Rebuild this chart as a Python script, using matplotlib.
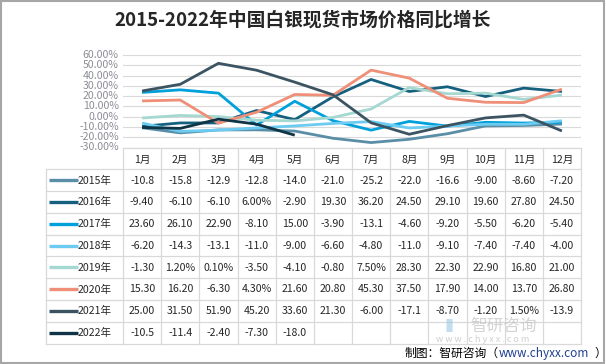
import numpy as np
import matplotlib.pyplot as plt
from matplotlib.patches import Rectangle

plt.rcParams['font.family'] = ['Noto Sans CJK SC', 'DejaVu Sans']

months = ['1月', '2月', '3月', '4月', '5月', '6月', '7月', '8月', '9月', '10月', '11月', '12月']
years = ['2015年', '2016年', '2017年', '2018年', '2019年', '2020年', '2021年', '2022年']

y2015 = [-10.8, -15.8, -12.9, -12.8, -14.0, -21.0, -25.2, -22.0, -16.6, -9.00, -8.60, -7.20]
y2016 = [-9.40, -6.10, -6.10, 6.00, -2.90, 19.30, 36.20, 24.50, 29.10, 19.60, 27.80, 24.50]
y2017 = [23.60, 26.10, 22.90, -8.10, 15.00, -3.90, -13.1, -4.60, -9.20, -5.50, -6.20, -5.40]
y2018 = [-6.20, -14.3, -13.1, -11.0, -9.00, -6.60, -4.80, -11.0, -9.10, -7.40, -7.40, -4.00]
y2019 = [-1.30, 1.20, 0.10, -3.50, -4.10, -0.80, 7.50, 28.30, 22.30, 22.90, 16.80, 21.00]
y2020 = [15.30, 16.20, -6.30, 4.30, 21.60, 20.80, 45.30, 37.50, 17.90, 14.00, 13.70, 26.80]
y2021 = [25.00, 31.50, 51.90, 45.20, 33.60, 21.30, -6.00, -17.1, -8.70, -1.20, 1.50, -13.9]
y2022 = [-10.5, -11.4, -2.40, -7.30, -18.0]

series = [y2015, y2016, y2017, y2018, y2019, y2020, y2021, y2022]
colors = ['#5a8ea6', '#15607f', '#00a0da', '#6ccbf1', '#a4d8d1', '#ef8f78', '#3c5462', '#0f3446']

W, H = 606, 364


def fx(px):
    return px / W


def fy(py):
    return 1 - py / H


def fmt(v):
    if 0 < v < 10:
        return f'{v:.2f}%'
    if v <= -10:
        return f'{v:.1f}'
    return f'{v:.2f}'


fig = plt.figure(figsize=(W / 100, H / 100), dpi=100)

# plot area
x0, x1 = 123, 581
ytop, ybot = 55, 147.5
ax = fig.add_axes([fx(x0), fy(ybot), fx(x1 - x0), fy(ytop) - fy(ybot)])
for s, c in zip(series, colors):
    ax.plot(range(len(s)), s, color=c, lw=2.0, solid_capstyle='butt')
ax.set_xlim(-0.5, 11.5)
ax.set_ylim(-30, 60)
ax.set_yticks(np.arange(-30, 61, 10))
ax.set_yticklabels([f'{v:.2f}%' for v in np.arange(-30, 61, 10)], fontsize=7.6,
                   color='#8c8d96')
ax.set_xticks([])
ax.grid(axis='y', color='#d9d9d9', lw=0.8)
ax.set_axisbelow(True)
for sp in ax.spines.values():
    sp.set_visible(False)
ax.tick_params(axis='y', length=0, pad=3)
for lab in ax.get_yticklabels():
    lab.set_verticalalignment('center')

# data table
tb_bot = 343.5
tab = fig.add_axes([fx(x0), fy(tb_bot), fx(x1 - x0), fy(ybot) - fy(tb_bot)])
tab.set_xlim(-0.5, 11.5)
tab.set_ylim(8.5, -0.5)
tab.axis('off')
grid_c = '#d9d9d9'
lab_w = (x0 - 46) / ((x1 - x0) / 12)
left = -0.5 - lab_w
for j in range(13):
    tab.plot([j - 0.5, j - 0.5], [-0.5, 8.5], color=grid_c, lw=0.9, clip_on=False)
tab.plot([left, left], [0.5, 8.5], color=grid_c, lw=0.9, clip_on=False)
for r in range(10):
    xa = -0.5 if r == 0 else left
    tab.plot([xa, 11.5], [r - 0.5, r - 0.5], color=grid_c, lw=0.9, clip_on=False)
for j, m in enumerate(months):
    tab.text(j, 0.05, m, ha='center', va='center', fontsize=7.6, color='#262626')
for i, (yr, s, c) in enumerate(zip(years, series, colors)):
    r = i + 1
    tab.plot([left + 0.08, left + 0.84], [r, r], color=c, lw=2.4, clip_on=False,
             solid_capstyle='butt')
    tab.text(left + 0.84, r + 0.02, yr, ha='left', va='center', fontsize=7.6,
             color='#262626', clip_on=False)
    for j, v in enumerate(s):
        tab.text(j, r + 0.02, fmt(v), ha='center', va='center', fontsize=7.6,
                 color='#262626')

# title
fig.text(0.5, fy(20), '2015-2022年中国白银现货市场价格同比增长', ha='center', va='center',
         fontsize=13.5, fontweight='bold', color='#262626')

# watermark
fig.text(fx(470), fy(326), '智研咨询', ha='left', va='center', fontsize=12,
         color='#b8b8b8', alpha=0.6)
fig.text(fx(445), fy(326), '▮', ha='left', va='center', fontsize=12,
         color='#9ec9e6', alpha=0.6)
fig.text(fx(436), fy(339), 'w w w . c h y x x . c o m', ha='left', va='center',
         fontsize=6.5, color='#b0b0b0', alpha=0.6)

# footer
fig.text(fx(499), fy(353), '制图：智研咨询（', ha='right', va='center', fontsize=8.5,
         color='#000000')
fig.text(fx(499), fy(353), 'www.chyxx.com', ha='left', va='center', fontsize=8.5,
         color='#1f3f8f')
fig.text(fx(594), fy(353), '）', ha='left', va='center', fontsize=8.5,
         color='#000000')

# outer frame
fig.patches.append(Rectangle((0.001, 0.002), 0.996, 0.995, transform=fig.transFigure,
                             fill=False, edgecolor='#a6a6a6', lw=1.5))

fig.savefig('out.png', dpi=100)
